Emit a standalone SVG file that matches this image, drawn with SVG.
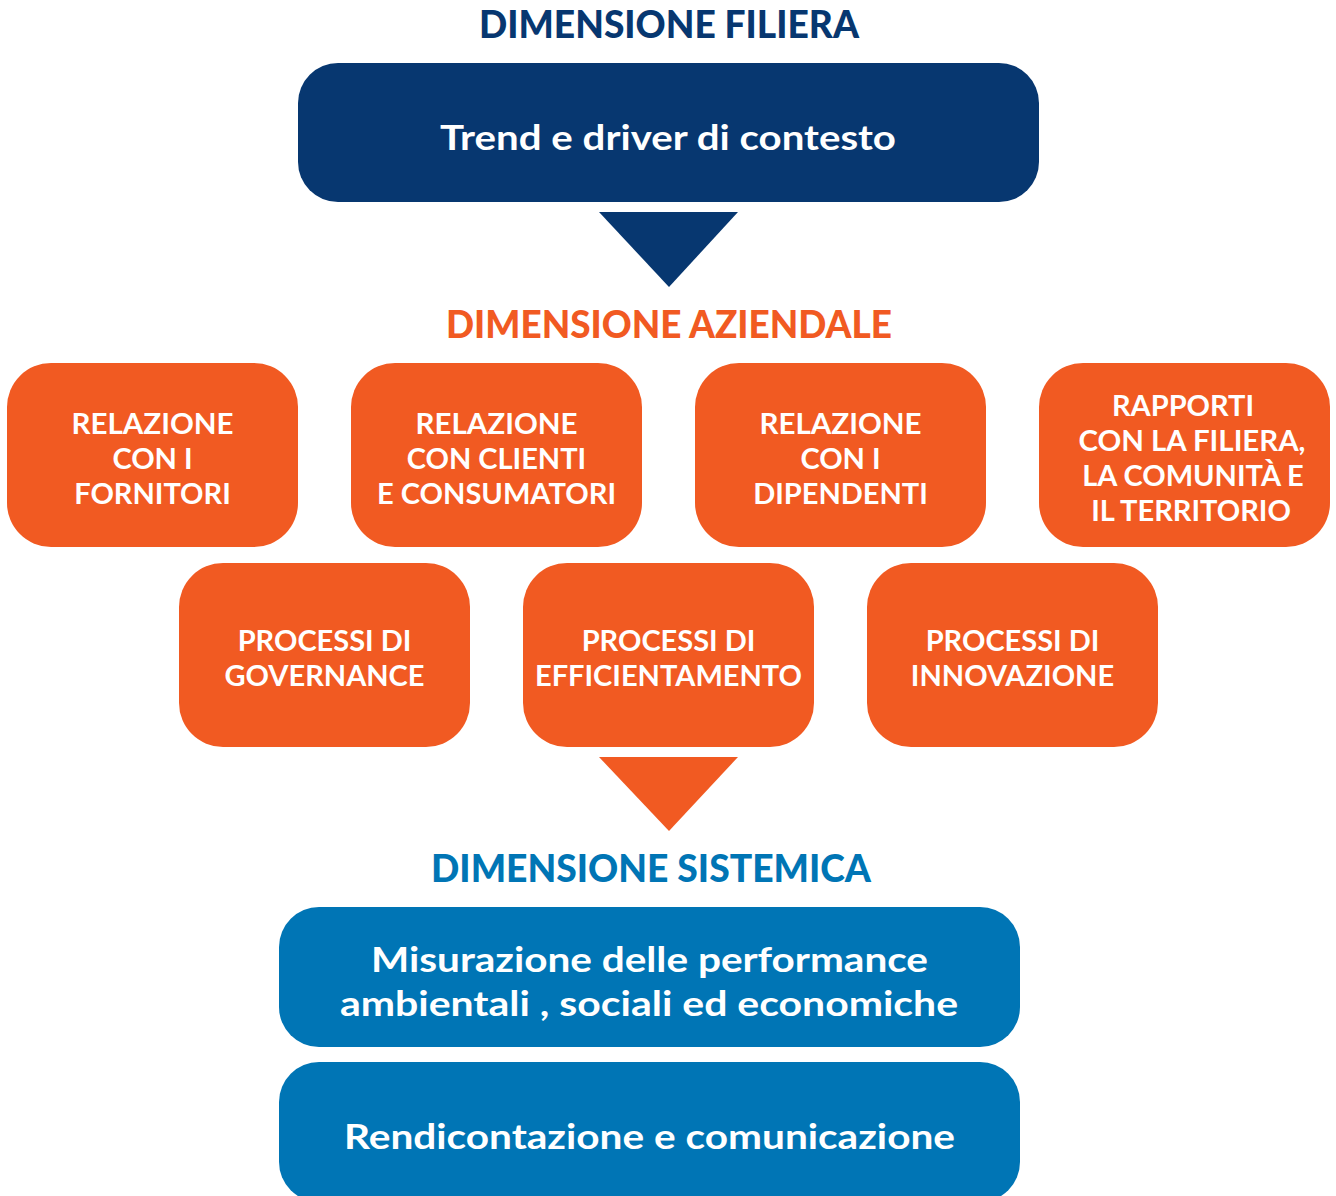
<svg xmlns="http://www.w3.org/2000/svg" width="1336" height="1196" viewBox="0 0 1336 1196">
<style>
.title{font-family:Lato,"Open Sans",sans-serif;font-weight:900;font-size:37px;text-anchor:middle}
.big{font-family:Lato,"Open Sans",sans-serif;font-weight:700;font-size:35px;fill:#fff;text-anchor:middle}
.sm{font-family:Lato,"Open Sans",sans-serif;font-weight:700;font-size:29px;fill:#fff;text-anchor:middle}
.navy{fill:#073770}
.org{fill:#F15A22}
.blu{fill:#0075B5}
</style>
<rect width="1336" height="1196" fill="#fff"/>
<text class="title navy" x="669" y="38" textLength="380" lengthAdjust="spacingAndGlyphs">DIMENSIONE FILIERA</text>
<g id="trend">
<rect class="navy" x="298" y="63" width="741" height="139" rx="40"/>
<text class="big" x="668" y="150" textLength="456" lengthAdjust="spacingAndGlyphs">Trend e driver di contesto</text>
</g>
<g id="connectors">
<polygon class="navy" points="599,212 738,212 669,287"/>
<polygon class="org" points="599,757 738,757 669,831"/>
</g>
<text class="title org" x="669" y="338" textLength="446" lengthAdjust="spacingAndGlyphs">DIMENSIONE AZIENDALE</text>
<g id="fornitori">
<rect class="org" x="7" y="363" width="291" height="184" rx="44"/>
<text class="sm" x="152.5" y="434" textLength="162" lengthAdjust="spacingAndGlyphs">RELAZIONE</text>
<text class="sm" x="152.5" y="469">CON I</text>
<text class="sm" x="152.5" y="504">FORNITORI</text>
</g>
<g id="clienti">
<rect class="org" x="351" y="363" width="291" height="184" rx="44"/>
<text class="sm" x="496.5" y="434" textLength="162" lengthAdjust="spacingAndGlyphs">RELAZIONE</text>
<text class="sm" x="496.5" y="469">CON CLIENTI</text>
<text class="sm" x="496.5" y="504" textLength="239" lengthAdjust="spacingAndGlyphs">E CONSUMATORI</text>
</g>
<g id="dipendenti">
<rect class="org" x="695" y="363" width="291" height="184" rx="44"/>
<text class="sm" x="840.5" y="434" textLength="162" lengthAdjust="spacingAndGlyphs">RELAZIONE</text>
<text class="sm" x="840.5" y="469">CON I</text>
<text class="sm" x="840.5" y="504">DIPENDENTI</text>
</g>
<g id="territorio">
<rect class="org" x="1039" y="363" width="291" height="184" rx="44"/>
<text class="sm" x="1183" y="416">RAPPORTI</text>
<text class="sm" x="1192" y="451" textLength="227" lengthAdjust="spacingAndGlyphs">CON LA FILIERA,</text>
<text class="sm" x="1193" y="486">LA COMUNITÀ E</text>
<text class="sm" x="1191" y="521">IL TERRITORIO</text>
</g>
<g id="governance">
<rect class="org" x="179" y="563" width="291" height="184" rx="44"/>
<text class="sm" x="324.5" y="651">PROCESSI DI</text>
<text class="sm" x="324.5" y="686">GOVERNANCE</text>
</g>
<g id="efficientamento">
<rect class="org" x="523" y="563" width="291" height="184" rx="44"/>
<text class="sm" x="668.5" y="651">PROCESSI DI</text>
<text class="sm" x="668.5" y="686" textLength="267" lengthAdjust="spacingAndGlyphs">EFFICIENTAMENTO</text>
</g>
<g id="innovazione">
<rect class="org" x="867" y="563" width="291" height="184" rx="44"/>
<text class="sm" x="1012.5" y="651">PROCESSI DI</text>
<text class="sm" x="1012.5" y="686">INNOVAZIONE</text>
</g>
<text class="title blu" x="651" y="882" textLength="440" lengthAdjust="spacingAndGlyphs">DIMENSIONE SISTEMICA</text>
<g id="misurazione">
<rect class="blu" x="279" y="907" width="741" height="140" rx="40"/>
<text class="big" x="649.5" y="972" textLength="557" lengthAdjust="spacingAndGlyphs">Misurazione delle performance</text>
<text class="big" x="649" y="1016" textLength="618" lengthAdjust="spacingAndGlyphs">ambientali , sociali ed economiche</text>
</g>
<g id="rendicontazione">
<rect class="blu" x="279" y="1062" width="741" height="140" rx="40"/>
<text class="big" x="649.5" y="1149" textLength="611" lengthAdjust="spacingAndGlyphs">Rendicontazione e comunicazione</text>
</g>
</svg>
